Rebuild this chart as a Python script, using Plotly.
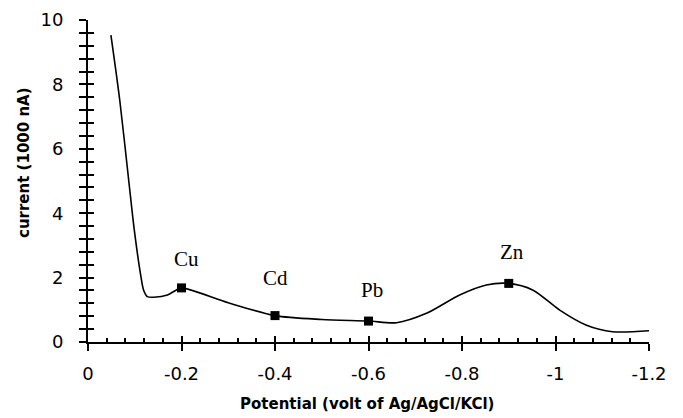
import plotly.graph_objects as go

# Voltammogram curve
potential = [-0.049, -0.068, -0.087, -0.099, -0.112, -0.119, -0.127, -0.141, -0.170, -0.188,
             -0.2, -0.3, -0.4, -0.5, -0.6, -0.66, -0.724, -0.795, -0.852, -0.9,
             -0.952, -1.009, -1.065, -1.122, -1.2]
current = [9.53, 7.5, 5.03, 3.48, 2.14, 1.61, 1.41, 1.39, 1.46, 1.61,
           1.68, 1.22, 0.82, 0.70, 0.65, 0.60, 0.89, 1.46, 1.77, 1.82,
           1.61, 0.99, 0.53, 0.32, 0.35]

# Peaks
peak_names = ["Cu", "Cd", "Pb", "Zn"]
peak_potential = [-0.2, -0.4, -0.6, -0.9]
peak_current = [1.68, 0.82, 0.65, 1.82]
label_x = [-0.211, -0.401, -0.608, -0.906]
label_y = [2.58, 1.99, 1.60, 2.78]

x_tickvals = [0, -0.2, -0.4, -0.6, -0.8, -1.0, -1.2]
x_ticktext = ["0", "-0.2", "-0.4", "-0.6", "-0.8", "-1", "-1.2"]
y_tickvals = [0, 2, 4, 6, 8, 10]

x_title = "Potential (volt of Ag/AgCl/KCl)"
y_title = "current (1000 nA)"

tickfont = dict(family="DejaVu Sans, sans-serif", size=18, color="black")
titlefont = dict(family="DejaVu Sans, sans-serif", size=15, color="black")

fig = go.Figure()
fig.add_trace(go.Scatter(x=potential, y=current, mode="lines",
                         line=dict(color="black", width=1.6, shape="spline", smoothing=0.8),
                         hoverinfo="skip", showlegend=False))
fig.add_trace(go.Scatter(x=peak_potential, y=peak_current, mode="markers",
                         marker=dict(symbol="square", size=9, color="black"),
                         showlegend=False))
# invisible trace for overlay axes (inner ticks)
fig.add_trace(go.Scatter(x=[0], y=[0], xaxis="x2", yaxis="y2", mode="markers",
                         marker=dict(opacity=0), hoverinfo="skip", showlegend=False))

for name, lx, ly in zip(peak_names, label_x, label_y):
    fig.add_annotation(x=lx, y=ly, text=name, showarrow=False,
                       font=dict(family="Liberation Serif, Times New Roman, serif", size=21, color="black"))

fig.add_annotation(xref="paper", yref="paper", x=0.497, y=-0.193, text="<b>" + x_title + "</b>",
                   showarrow=False, font=titlefont, xanchor="center", yanchor="middle")
fig.add_annotation(xref="paper", yref="paper", x=-0.114, y=0.556, text="<b>" + y_title + "</b>",
                   showarrow=False, font=titlefont, textangle=-90, xanchor="center", yanchor="middle")

fig.update_layout(
    width=683, height=418,
    margin=dict(l=80, r=42, t=12, b=84),
    paper_bgcolor="white", plot_bgcolor="white",
    xaxis=dict(range=[0, -1.2], tickvals=x_tickvals, ticktext=x_ticktext, automargin=False,
               showline=True, linecolor="black", linewidth=2,
               ticks="outside", ticklen=7, tickwidth=2, tickcolor="black", ticklabelstandoff=7,
               showgrid=False, zeroline=False, tickfont=tickfont),
    yaxis=dict(range=[0, 10], tickvals=y_tickvals, automargin=False,
               showline=True, linecolor="black", linewidth=2,
               ticks="outside", ticklen=7, tickwidth=2, tickcolor="black", ticklabelstandoff=12,
               minor=dict(dtick=0.4, tick0=0, ticks="outside", ticklen=7, tickwidth=2, tickcolor="black", showgrid=False),
               showgrid=False, zeroline=False, tickfont=tickfont),
    xaxis2=dict(range=[0, -1.2], overlaying="x", anchor="y", side="bottom", automargin=False,
                tickvals=x_tickvals, showticklabels=False,
                ticks="inside", ticklen=6, tickwidth=2, tickcolor="black",
                minor=dict(dtick=0.04, tick0=0, ticks="inside", ticklen=4, tickwidth=1.5, tickcolor="black", showgrid=False),
                showgrid=False, zeroline=False, showline=False),
    yaxis2=dict(range=[0, 10], overlaying="y", anchor="x", side="left", automargin=False,
                tickvals=y_tickvals, showticklabels=False,
                ticks="inside", ticklen=6, tickwidth=2, tickcolor="black",
                minor=dict(dtick=0.4, tick0=0, ticks="inside", ticklen=6, tickwidth=2, tickcolor="black", showgrid=False),
                showgrid=False, zeroline=False, showline=False),
)

fig.write_html("out.html")
